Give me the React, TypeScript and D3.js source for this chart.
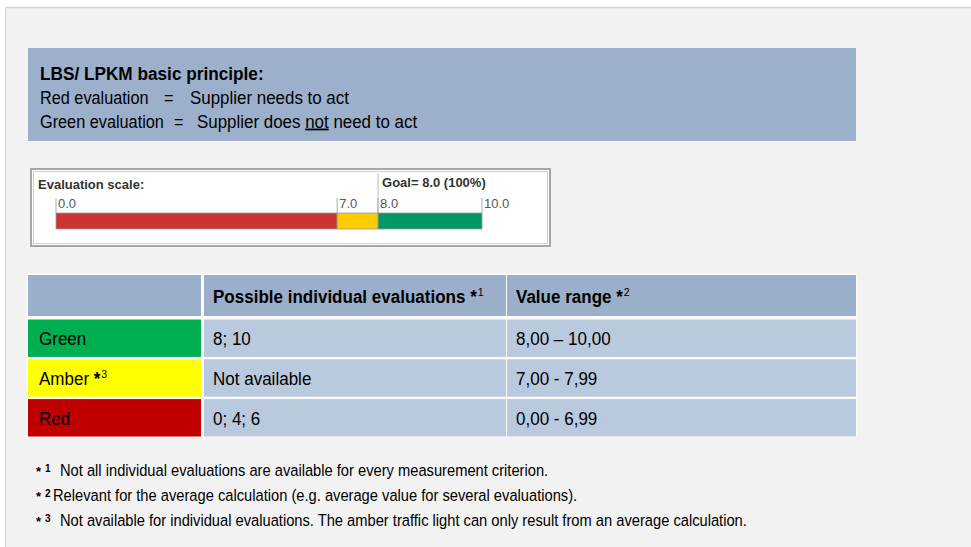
import * as d3 from 'd3';
import type { ReactNode } from 'react';

// ---- data ----
const principleTitle = 'LBS/ LPKM basic principle:';
const principleLabels = ['Red evaluation', 'Green evaluation'];
const principleMeanings = ['Supplier needs to act', 'Supplier does not need to act'];
const underlinedWord = 'not';

const scaleTitle = 'Evaluation scale:';
const scaleStops = [0, 7, 8, 10];
const scaleTickLabels = ['0.0', '7.0', '8.0', '10.0'];
const goalValue = 8;
const goalLabel = 'Goal= 8.0 (100%)';

const headerLabels = ['', 'Possible individual evaluations', 'Value range'];
const headerNotes = ['', '1', '2'];
const ratingNames = ['Green', 'Amber', 'Red'];
const ratingNotes = ['', '3', ''];
const possibleEvaluations = ['8; 10', 'Not available', '0; 4; 6'];
const valueRanges = ['8,00 \u2013 10,00', '7,00 - 7,99', '0,00 - 6,99'];

const footnoteMarks = ['1', '2', '3'];
const footnoteTexts = [
  'Not all individual evaluations are available for every measurement criterion.',
  'Relevant for the average calculation (e.g. average value for several evaluations).',
  'Not available for individual evaluations. The amber traffic light can only result from an average calculation.',
];

// ---- styles ----
const W = 971;
const H = 547;
const SANS = "'Liberation Sans', Arial, sans-serif";
const bandColors = ['#cc3333', '#ffcc00', '#009966'];
const ratingColors = ['#00b050', '#ffff00', '#c00000'];
const headerFill = '#9bafca';
const cellFill = '#b9c9de';

// condensed look: squeeze Liberation Sans horizontally
function Narrow({ x, y, sx, size, bold, children }: { x: number; y: number; sx: number; size: number; bold?: boolean; children: ReactNode }) {
  return (
    <g transform={`translate(${x},${y}) scale(${sx},1)`}>
      <text x={0} y={0} fontFamily={SANS} fontSize={size} fontWeight={bold ? 'bold' : 'normal'} fill="#000" style={{ whiteSpace: 'pre' }}>
        {children}
      </text>
    </g>
  );
}

export default function App() {
  // evaluation scale (the picture spaces the stops unevenly)
  const scaleFractions = [0, 0.66, 0.756, 1];
  const barLeft = 56;
  const barWidth = 426;
  const x = d3
    .scaleLinear()
    .domain(scaleStops)
    .range(scaleFractions.map((f) => barLeft + f * barWidth));
  const bands = d3.pairs(scaleStops);

  // table layout
  const colEdges = [28, 203, 506, 856];
  const rowBand = d3.scaleBand<string>().domain(ratingNames).range([319.5, 436.5]).paddingInner(0.06);

  const eqX = [164, 174];
  const meaningX = [190, 197];

  const note = (n: string) =>
    n ? (
      <>
        <tspan fontWeight="bold">{' *'}</tspan>
        <tspan fontSize={11.5} dx={1} dy={-7} fontWeight="normal">{n}</tspan>
      </>
    ) : null;

  return (
    <svg width={W} height={H} style={{ position: 'absolute', left: 0, top: 0, display: 'block' }}>
      <rect x={0} y={0} width={W} height={H} fill="#ffffff" />
      {/* panel */}
      <rect x={5} y={8} width={W - 5} height={H - 8} fill="#f2f2f2" />
      <line x1={5} y1={7.5} x2={W} y2={7.5} stroke="#d6d6d6" strokeWidth={1.5} />
      <line x1={5.5} y1={8} x2={5.5} y2={H} stroke="#d6d6d6" strokeWidth={1} />

      {/* principle box */}
      <rect x={28} y={48} width={828} height={93} fill="#9cb0cc" />
      <Narrow x={40} y={80} sx={0.93} size={18.5} bold>
        {principleTitle}
      </Narrow>
      {principleLabels.map((label, i) => {
        const parts = principleMeanings[i].split(` ${underlinedWord} `);
        const y = 103.5 + i * 24;
        return (
          <g key={label}>
            <Narrow x={40} y={y} sx={0.88} size={18.5}>{label}</Narrow>
            <Narrow x={eqX[i]} y={y} sx={0.88} size={18.5}>=</Narrow>
            <Narrow x={meaningX[i]} y={y} sx={0.915} size={18.5}>
              {parts[0]}
              {parts.length > 1 && (
                <>
                  {' '}
                  <tspan textDecoration="underline">{underlinedWord}</tspan>
                  {' ' + parts[1]}
                </>
              )}
            </Narrow>
          </g>
        );
      })}

      {/* evaluation scale box */}
      <rect x={31} y={169} width={519} height={77} fill="#ffffff" stroke="#8c8c8c" strokeWidth={1.5} />
      <rect x={33.5} y={171.5} width={514} height={72} fill="none" stroke="#d0d0d0" strokeWidth={1} />
      <text x={38} y={189} fontFamily={SANS} fontSize={13} fontWeight="bold" fill="#333">
        {scaleTitle}
      </text>
      <line x1={x(goalValue)} x2={x(goalValue)} y1={173} y2={213} stroke="#bbbbbb" strokeWidth={1} />
      <text x={x(goalValue) + 4} y={187} fontFamily={SANS} fontSize={13} fontWeight="bold" fill="#333">
        {goalLabel}
      </text>
      {scaleStops.map((v, i) => (
        <g key={v}>
          <line x1={x(v)} x2={x(v)} y1={198} y2={213} stroke="#aaaaaa" strokeWidth={1} />
          <text x={x(v) + 2} y={207.5} fontFamily={SANS} fontSize={13} fill="#555">
            {scaleTickLabels[i]}
          </text>
        </g>
      ))}
      {bands.map(([a, b], i) => (
        <rect key={a} x={x(a)} y={213} width={x(b) - x(a)} height={16} fill={bandColors[i]} stroke="#9a9a9a" strokeWidth={0.8} />
      ))}

      {/* table */}
      <rect x={26.5} y={273.5} width={831} height={164} fill="#ffffff" opacity={0.7} />
      {headerLabels.map((h, c) => (
        <g key={`h${c}`}>
          <rect x={colEdges[c] + (c ? 1 : 0)} y={275} width={colEdges[c + 1] - colEdges[c] - (c ? 1 : 2)} height={41} fill={headerFill} />
          {h && (
            <Narrow x={colEdges[c] + 10} y={303} sx={0.92} size={18.5} bold>
              {h}
              {note(headerNotes[c])}
            </Narrow>
          )}
        </g>
      ))}
      {ratingNames.map((name, r) => {
        const y0 = rowBand(name) as number;
        const bh = rowBand.bandwidth();
        const cells = [name, possibleEvaluations[r], valueRanges[r]];
        return (
          <g key={name}>
            {cells.map((txt, c) => (
              <g key={c}>
                <rect
                  x={colEdges[c] + (c ? 1 : 0)}
                  y={y0}
                  width={colEdges[c + 1] - colEdges[c] - (c ? 1 : 2)}
                  height={bh}
                  fill={c === 0 ? ratingColors[r] : cellFill}
                />
                <Narrow x={colEdges[c] + (c ? 10 : 11)} y={y0 + bh / 2 + 7} sx={0.92} size={18.5}>
                  {txt}
                  {c === 0 && note(ratingNotes[r])}
                </Narrow>
              </g>
            ))}
          </g>
        );
      })}

      {/* footnotes */}
      {footnoteTexts.map((t, i) => (
        <g key={i}>
          <Narrow x={36} y={476 + i * 25} sx={1} size={13} bold>*</Narrow>
          <Narrow x={45} y={472 + i * 25} sx={1} size={10} bold>{footnoteMarks[i]}</Narrow>
          <Narrow x={i === 1 ? 53 : 60} y={476 + i * 25} sx={0.865} size={17}>{t}</Narrow>
        </g>
      ))}
    </svg>
  );
}
